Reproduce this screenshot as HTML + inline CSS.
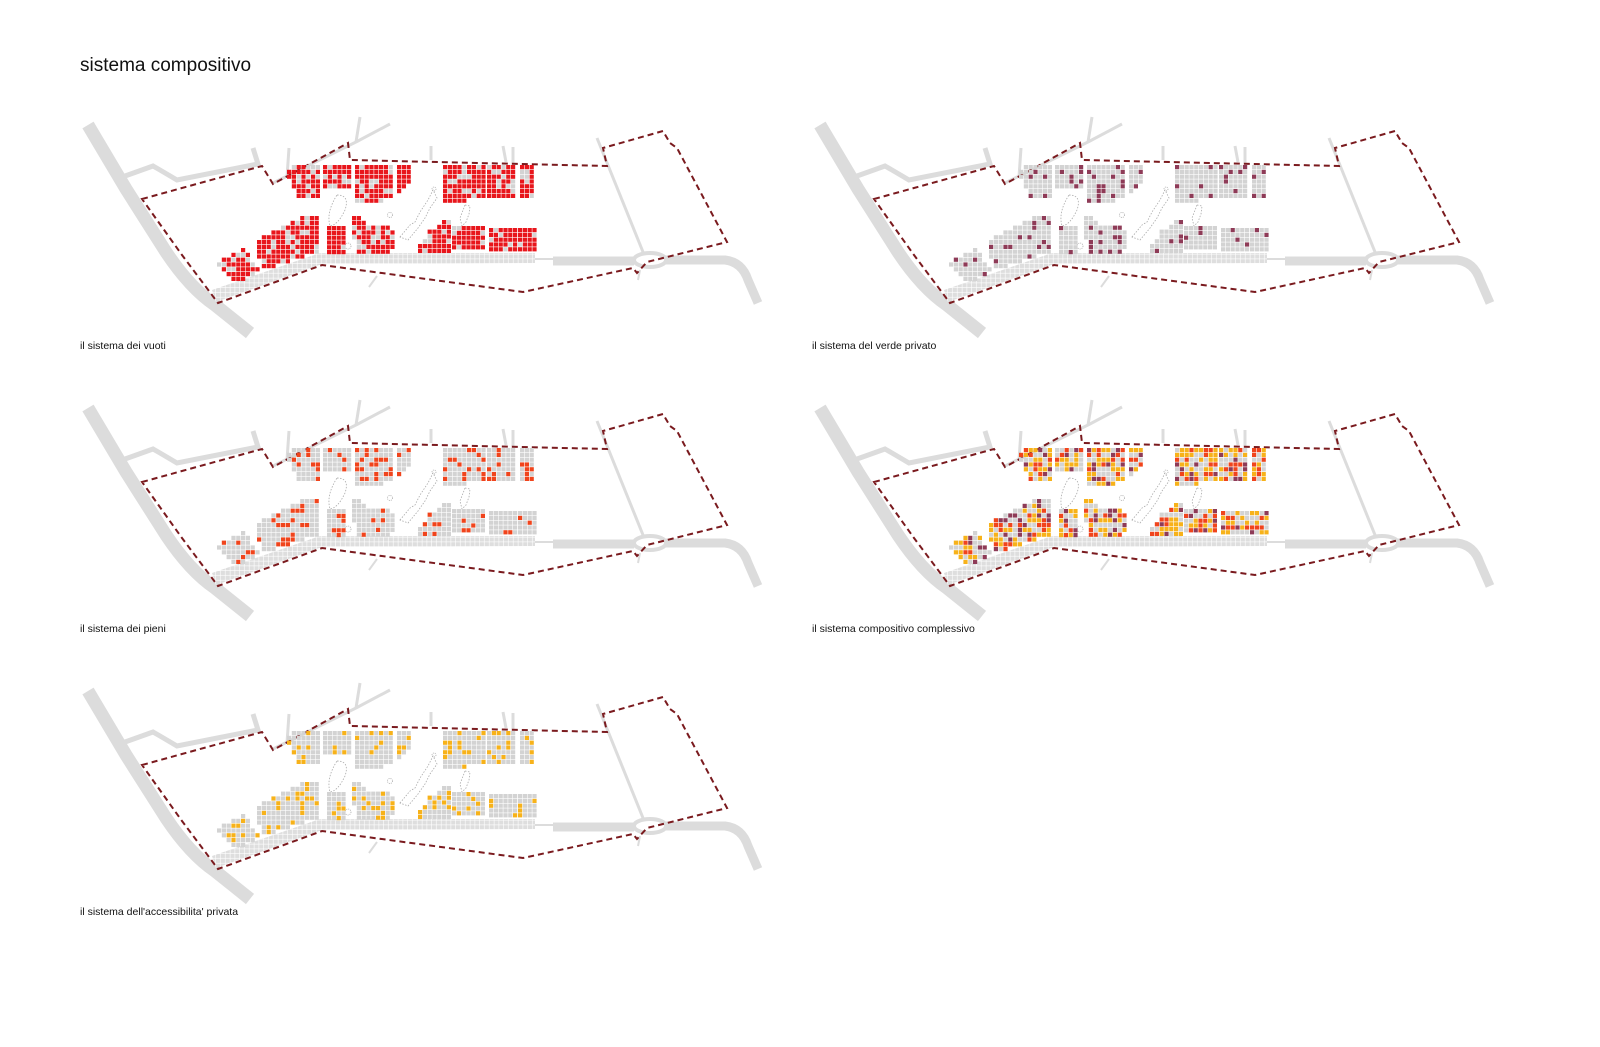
<!DOCTYPE html>
<html><head><meta charset="utf-8">
<style>
html,body{margin:0;padding:0;background:#fff;}
body{width:1600px;height:1047px;overflow:hidden;position:relative;font-family:"Liberation Sans",sans-serif;}
.t{position:absolute;color:#111;white-space:nowrap;}
</style></head>
<body>
<div class="t" style="left:80px;top:55px;font-size:19px;">sistema compositivo</div>
<div class="t" style="left:80px;top:340px;font-size:10.5px;">il sistema dei vuoti</div>
<div class="t" style="left:812px;top:340px;font-size:10.5px;">il sistema del verde privato</div>
<div class="t" style="left:80px;top:623px;font-size:10.5px;">il sistema dei pieni</div>
<div class="t" style="left:812px;top:623px;font-size:10.5px;">il sistema compositivo complessivo</div>
<div class="t" style="left:80px;top:906px;font-size:10.5px;">il sistema dell'accessibilita' privata</div>
<svg id="s" width="1600" height="1047" style="position:absolute;left:0;top:0" xmlns="http://www.w3.org/2000/svg">
<defs>
<pattern id="pg" width="4.8" height="4.8" patternUnits="userSpaceOnUse"><rect width="4.8" height="4.8" fill="#fff"/><rect width="4.2" height="4.2" fill="#dedede"/></pattern>
<g id="base">
 <path d="M88,125 L126,189 L166,252 Q190,288 215,305 L250,333" fill="none" stroke="#dcdcdc" stroke-width="13"/>
 <path d="M125,176 L153,166 L160,170 L177,180 L258,164 L253,148" fill="none" stroke="#dcdcdc" stroke-width="5"/>
 <path d="M273,183 L356,142 L360,117 M356,142 L390,124 M289,148 L287,177 M431,146 L431,160 M503,146 L506,162 M513,147 L513,163" fill="none" stroke="#dcdcdc" stroke-width="3"/>
 <path d="M597,138 L643,252" fill="none" stroke="#dcdcdc" stroke-width="3"/>
 <ellipse cx="650" cy="260" rx="16" ry="7" fill="none" stroke="#dcdcdc" stroke-width="4"/>
 <path d="M553,261 L634,261" stroke="#dcdcdc" stroke-width="9"/>
 <path d="M535,259 L553,259" stroke="#dcdcdc" stroke-width="2"/>
 <path d="M666,260 L725,260 Q742,262 748,280 L758,303" fill="none" stroke="#dcdcdc" stroke-width="9"/>
 <path d="M377,276 L369,287 M640,270 L638,280" stroke="#dcdcdc" stroke-width="2"/>
 <polygon points="212,290 320,253 535,253 535,263 322,264 216,302" fill="url(#pg)"/>
 <path d="M337,195 Q350,195 345,210 Q338,225 330,226 Q326,212 337,195 Z" fill="none" stroke="#aaa" stroke-width="0.8" stroke-dasharray="1.5 1.5"/>
 <path d="M400,237 L410,225 L415,222 L420,212 L428,200 L433,190 L437,198 L430,208 L425,218 L418,228 L408,240 Z" fill="none" stroke="#aaa" stroke-width="0.8" stroke-dasharray="1.5 1.5"/>
 <circle cx="390" cy="215" r="2.5" fill="none" stroke="#aaa" stroke-width="0.8" stroke-dasharray="1 1"/>
 <circle cx="434" cy="189" r="2" fill="none" stroke="#aaa" stroke-width="0.8" stroke-dasharray="1 1"/>
 <path d="M465,205 L470,206 L469,214 L466,222 L462,226 L460,218 Z" fill="none" stroke="#aaa" stroke-width="0.8" stroke-dasharray="1.5 1.5"/>
 <circle cx="348" cy="246" r="3" fill="none" stroke="#aaa" stroke-width="0.8" stroke-dasharray="1 1"/>
 <path d="M142,199 L262,166 L273,184 L348,143 L350,160 L607,166 L603,148 L663,131 L670,143 L677,148 L727,242 L667,257 L647,262 L637,273 L633,268 L523,292 L322,265 L218,303 L182,255 Z" fill="none" stroke="#7a1a1e" stroke-width="2" stroke-dasharray="6 4"/>
</g>
</defs>
<use href="#base" x="0" y="0"/>
<use href="#base" x="732" y="0"/>
<use href="#base" x="0" y="283"/>
<use href="#base" x="732" y="283"/>
<use href="#base" x="0" y="566"/>
<g id="cells"></g>
</svg>
<script>
var blocks=[
[[292,165],[322,165],[322,192],[318,197],[298,197],[287,175]],
[[323,165],[350,165],[350,188],[323,188]],
[[355,165],[395,165],[395,197],[383,197],[383,203],[355,203]],
[[397,165],[413,165],[410,185],[403,192],[397,192]],
[[446,165],[465,165],[465,203],[443,203],[443,170]],
[[467,165],[485,165],[485,198],[467,198]],
[[487,165],[517,165],[517,198],[487,198]],
[[520,165],[535,165],[535,197],[520,197]],
[[217,263],[243,248],[263,272],[237,283],[220,271]],
[[257,240],[290,224],[307,216],[318,216],[318,253],[265,271],[257,252]],
[[327,226],[348,226],[348,254],[327,254]],
[[352,217],[363,216],[366,225],[391,225],[395,233],[392,254],[356,254]],
[[418,249],[430,232],[447,220],[450,220],[450,252],[418,252]],
[[452,228],[487,226],[487,252],[452,252]],
[[489,228],[516,228],[516,252],[489,252]],
[[518,228],[535,228],[535,252],[518,252]]
];
function pip(x,y,p){var c=false;for(var i=0,j=p.length-1;i<p.length;j=i++){var a=p[i],b=p[j];if(((a[1]>y)!=(b[1]>y))&&(x<(b[0]-a[0])*(y-a[1])/(b[1]-a[1])+a[0]))c=!c;}return c;}
var seed=12345;function rnd(){seed=(seed*16807)%2147483647;return seed/2147483647;}
var G='#d3d3d3',R='#e8161c',P='#8e3b57',O='#f0441c',Y='#f7b21a';
var schemes=[
function(){return rnd()<0.22?G:R;},
function(){return rnd()<0.17?P:G;},
function(){return rnd()<0.2?O:G;},
function(){var r=rnd();return r<0.3?Y:r<0.48?O:r<0.62?P:G;},
function(){return rnd()<0.2?Y:G;}
];
var off=[[0,0],[732,0],[0,283],[732,283],[0,566]];
var g=document.getElementById('cells'),h=[],s=4.8;
for(var k=0;k<5;k++){var ox=off[k][0],oy=off[k][1];
 blocks.forEach(function(b){var x0=1e9,y0=1e9,x1=-1e9,y1=-1e9;b.forEach(function(p){x0=Math.min(x0,p[0]);y0=Math.min(y0,p[1]);x1=Math.max(x1,p[0]);y1=Math.max(y1,p[1]);});
  for(var y=y0;y<y1;y+=s)for(var x=x0;x<x1;x+=s){if(pip(x+s/2,y+s/2,b)){h.push('<rect x="'+(x+ox).toFixed(1)+'" y="'+(y+oy).toFixed(1)+'" width="4.2" height="4.2" fill="'+schemes[k]()+'"/>');}}
 });}
g.innerHTML=h.join('');
</script>
</body></html>
